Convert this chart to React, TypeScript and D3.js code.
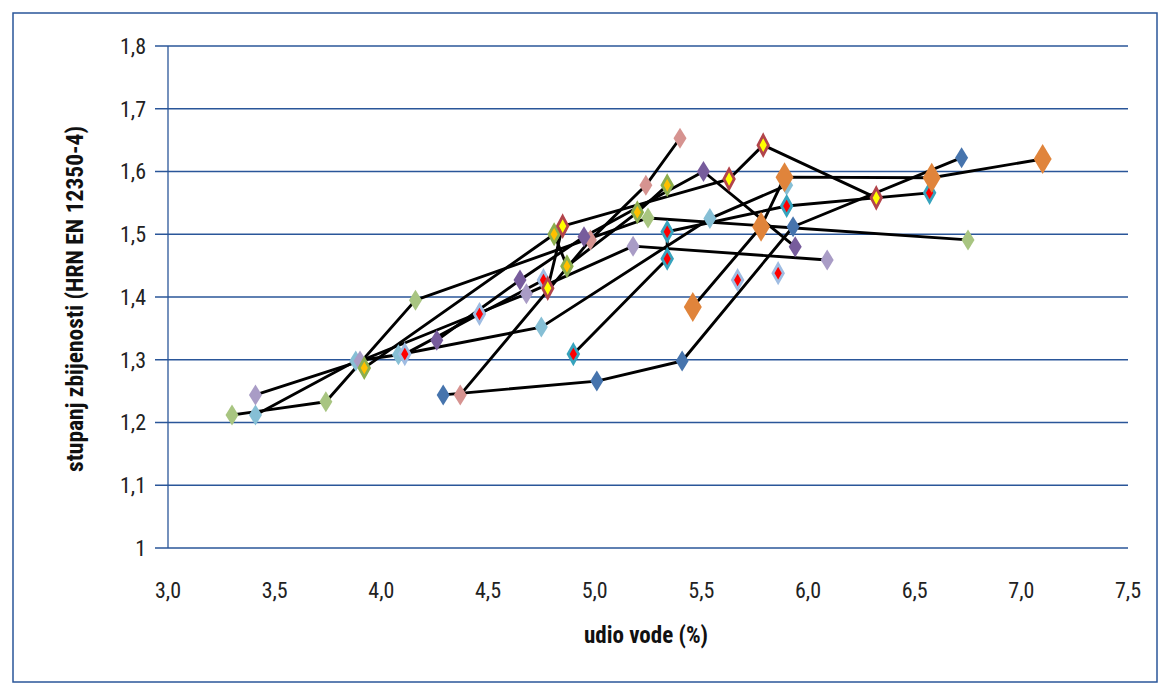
import React from "react";
import * as d3 from "d3";

const W = 1161;
const H = 685;

const xTicks = [3.0, 3.5, 4.0, 4.5, 5.0, 5.5, 6.0, 6.5, 7.0, 7.5];
const yTicks = [1.0, 1.1, 1.2, 1.3, 1.4, 1.5, 1.6, 1.7, 1.8];
const xTickLabels = ["3,0", "3,5", "4,0", "4,5", "5,0", "5,5", "6,0", "6,5", "7,0", "7,5"];
const yTickLabels = ["1", "1,1", "1,2", "1,3", "1,4", "1,5", "1,6", "1,7", "1,8"];

// each series: water content (%) and degree of compaction; null = break in the line
const seriesA_x = [4.29, 5.01, 5.41, 5.93, 6.72];
const seriesA_y = [1.244, 1.266, 1.298, 1.512, 1.622];
const seriesB_x = [4.37, 4.98, 5.24, 5.40];
const seriesB_y = [1.244, 1.491, 1.578, 1.653];
const seriesC_x = [3.30, 3.74, 4.16, 5.25, 6.75];
const seriesC_y = [1.212, 1.233, 1.395, 1.526, 1.491];
const seriesD_x = [3.41, 3.88, 4.08, 4.75, 5.54, 5.90];
const seriesD_y = [1.212, 1.298, 1.308, 1.352, 1.525, 1.578];
const seriesE_x = [3.41, 3.90, 4.68, 5.18, 6.09];
const seriesE_y = [1.244, 1.298, 1.405, 1.481, 1.459];
const seriesF_x = [4.26, 4.65, 4.95, 5.51, 5.94];
const seriesF_y = [1.331, 1.427, 1.496, 1.600, 1.480];
const seriesG_x = [3.92, 4.81, 4.87, 5.20, 5.34];
const seriesG_y = [1.287, 1.500, 1.449, 1.535, 1.578];
const seriesH_x = [4.11, 4.46, 4.76, null, 5.67, null, 5.86];
const seriesH_y = [1.309, 1.373, 1.427, null, 1.427, null, 1.438];
const seriesI_x = [4.90, 5.34, 5.34, 5.90, 6.57];
const seriesI_y = [1.309, 1.461, 1.504, 1.545, 1.566];
const seriesJ_x = [4.78, 4.85, 5.63, 5.79, 6.32];
const seriesJ_y = [1.414, 1.513, 1.588, 1.642, 1.558];
const seriesK_x = [5.46, 5.78, 5.89, 6.58, 7.10];
const seriesK_y = [1.384, 1.512, 1.591, 1.590, 1.620];

type Style = { fill: string; stroke: string; sw: number; hw: number; hh: number };

const series: { xs: (number | null)[]; ys: (number | null)[]; st: Style }[] = [
  { xs: seriesA_x, ys: seriesA_y, st: { fill: "#4674AD", stroke: "none", sw: 0, hw: 6.5, hh: 10.5 } },
  { xs: seriesB_x, ys: seriesB_y, st: { fill: "#D69390", stroke: "none", sw: 0, hw: 6.5, hh: 10.5 } },
  { xs: seriesC_x, ys: seriesC_y, st: { fill: "#A8C581", stroke: "none", sw: 0, hw: 6.5, hh: 10.5 } },
  { xs: seriesD_x, ys: seriesD_y, st: { fill: "#86BFD5", stroke: "none", sw: 0, hw: 6.5, hh: 10.5 } },
  { xs: seriesE_x, ys: seriesE_y, st: { fill: "#A99CC6", stroke: "none", sw: 0, hw: 6.5, hh: 10.5 } },
  { xs: seriesF_x, ys: seriesF_y, st: { fill: "#775C9C", stroke: "none", sw: 0, hw: 6.5, hh: 10.5 } },
  { xs: seriesG_x, ys: seriesG_y, st: { fill: "#FFC000", stroke: "#8CAE4E", sw: 2.8, hw: 5.2, hh: 9.2 } },
  { xs: seriesH_x, ys: seriesH_y, st: { fill: "#FF0000", stroke: "#9FBCE2", sw: 2.8, hw: 5.2, hh: 9.2 } },
  { xs: seriesI_x, ys: seriesI_y, st: { fill: "#FF0000", stroke: "#37A3BD", sw: 2.8, hw: 5.2, hh: 9.2 } },
  { xs: seriesJ_x, ys: seriesJ_y, st: { fill: "#FFFF00", stroke: "#B2444B", sw: 2.8, hw: 5.2, hh: 9.8 } },
  { xs: seriesK_x, ys: seriesK_y, st: { fill: "#E0843B", stroke: "none", sw: 0, hw: 9, hh: 15 } },
];

const FONT = "'Liberation Sans Narrow', 'Arial Narrow', 'Roboto Condensed', sans-serif";
const AXIS = "#2A5699";

export default function App() {
  const x = d3.scaleLinear().domain([3, 7.5]).range([168, 1128]);
  const y = d3.scaleLinear().domain([1, 1.8]).range([548, 46]);

  const line = d3
    .line<[number | null, number | null]>()
    .defined((d) => d[0] != null && d[1] != null)
    .x((d) => x(d[0] as number))
    .y((d) => y(d[1] as number));

  const diamond = (cx: number, cy: number, hw: number, hh: number) =>
    `M${cx},${cy - hh}L${cx + hw},${cy}L${cx},${cy + hh}L${cx - hw},${cy}Z`;

  return (
    <svg width={W} height={H} style={{ position: "absolute", left: 0, top: 0, background: "#fff" }}>
      <rect x={13} y={13} width={1144} height={669} fill="#fff" stroke={AXIS} strokeWidth={1.5} />
      {yTicks.map((t, i) => (
        <g key={"gy" + i}>
          <line x1={155} x2={1128} y1={y(t)} y2={y(t)} stroke={AXIS} strokeWidth={1.3} />
          <text
            x={146}
            y={y(t)}
            dy="0.36em"
            textAnchor="end"
            fontFamily={FONT}
            fontSize={22}
            fill="#222"
          >
            {yTickLabels[i]}
          </text>
        </g>
      ))}
      <line x1={168} x2={168} y1={y(1.8)} y2={y(1)} stroke={AXIS} strokeWidth={1.3} />
      {xTicks.map((t, i) => (
        <text
          key={"xl" + i}
          x={x(t)}
          y={598}
          textAnchor="middle"
          fontFamily={FONT}
          fontSize={22}
          fill="#222"
        >
          {xTickLabels[i]}
        </text>
      ))}
      <text
        x={646}
        y={643}
        textAnchor="middle"
        fontFamily={FONT}
        fontSize={23}
        fontWeight="bold"
        fill="#111"
      >
        udio vode (%)
      </text>
      <text
        transform="translate(83,299) rotate(-90)"
        textAnchor="middle"
        fontFamily={FONT}
        fontSize={23.5}
        fontWeight="bold"
        fill="#111"
      >
        stupanj zbijenosti (HRN EN 12350-4)
      </text>
      <g>
        {series.map((s, i) => (
          <path
            key={"l" + i}
            d={line(s.xs.map((v, j) => [v, s.ys[j]] as [number | null, number | null])) || ""}
            fill="none"
            stroke="#000"
            strokeWidth={2.9}
            strokeLinejoin="round"
          />
        ))}
      </g>
      <g>
        {series.map((s, i) =>
          s.xs.map((v, j) =>
            v == null || s.ys[j] == null ? null : (
              <path
                key={"m" + i + "_" + j}
                d={diamond(x(v), y(s.ys[j] as number), s.st.hw, s.st.hh)}
                fill={s.st.fill}
                stroke={s.st.stroke}
                strokeWidth={s.st.sw}
              />
            )
          )
        )}
      </g>
    </svg>
  );
}
